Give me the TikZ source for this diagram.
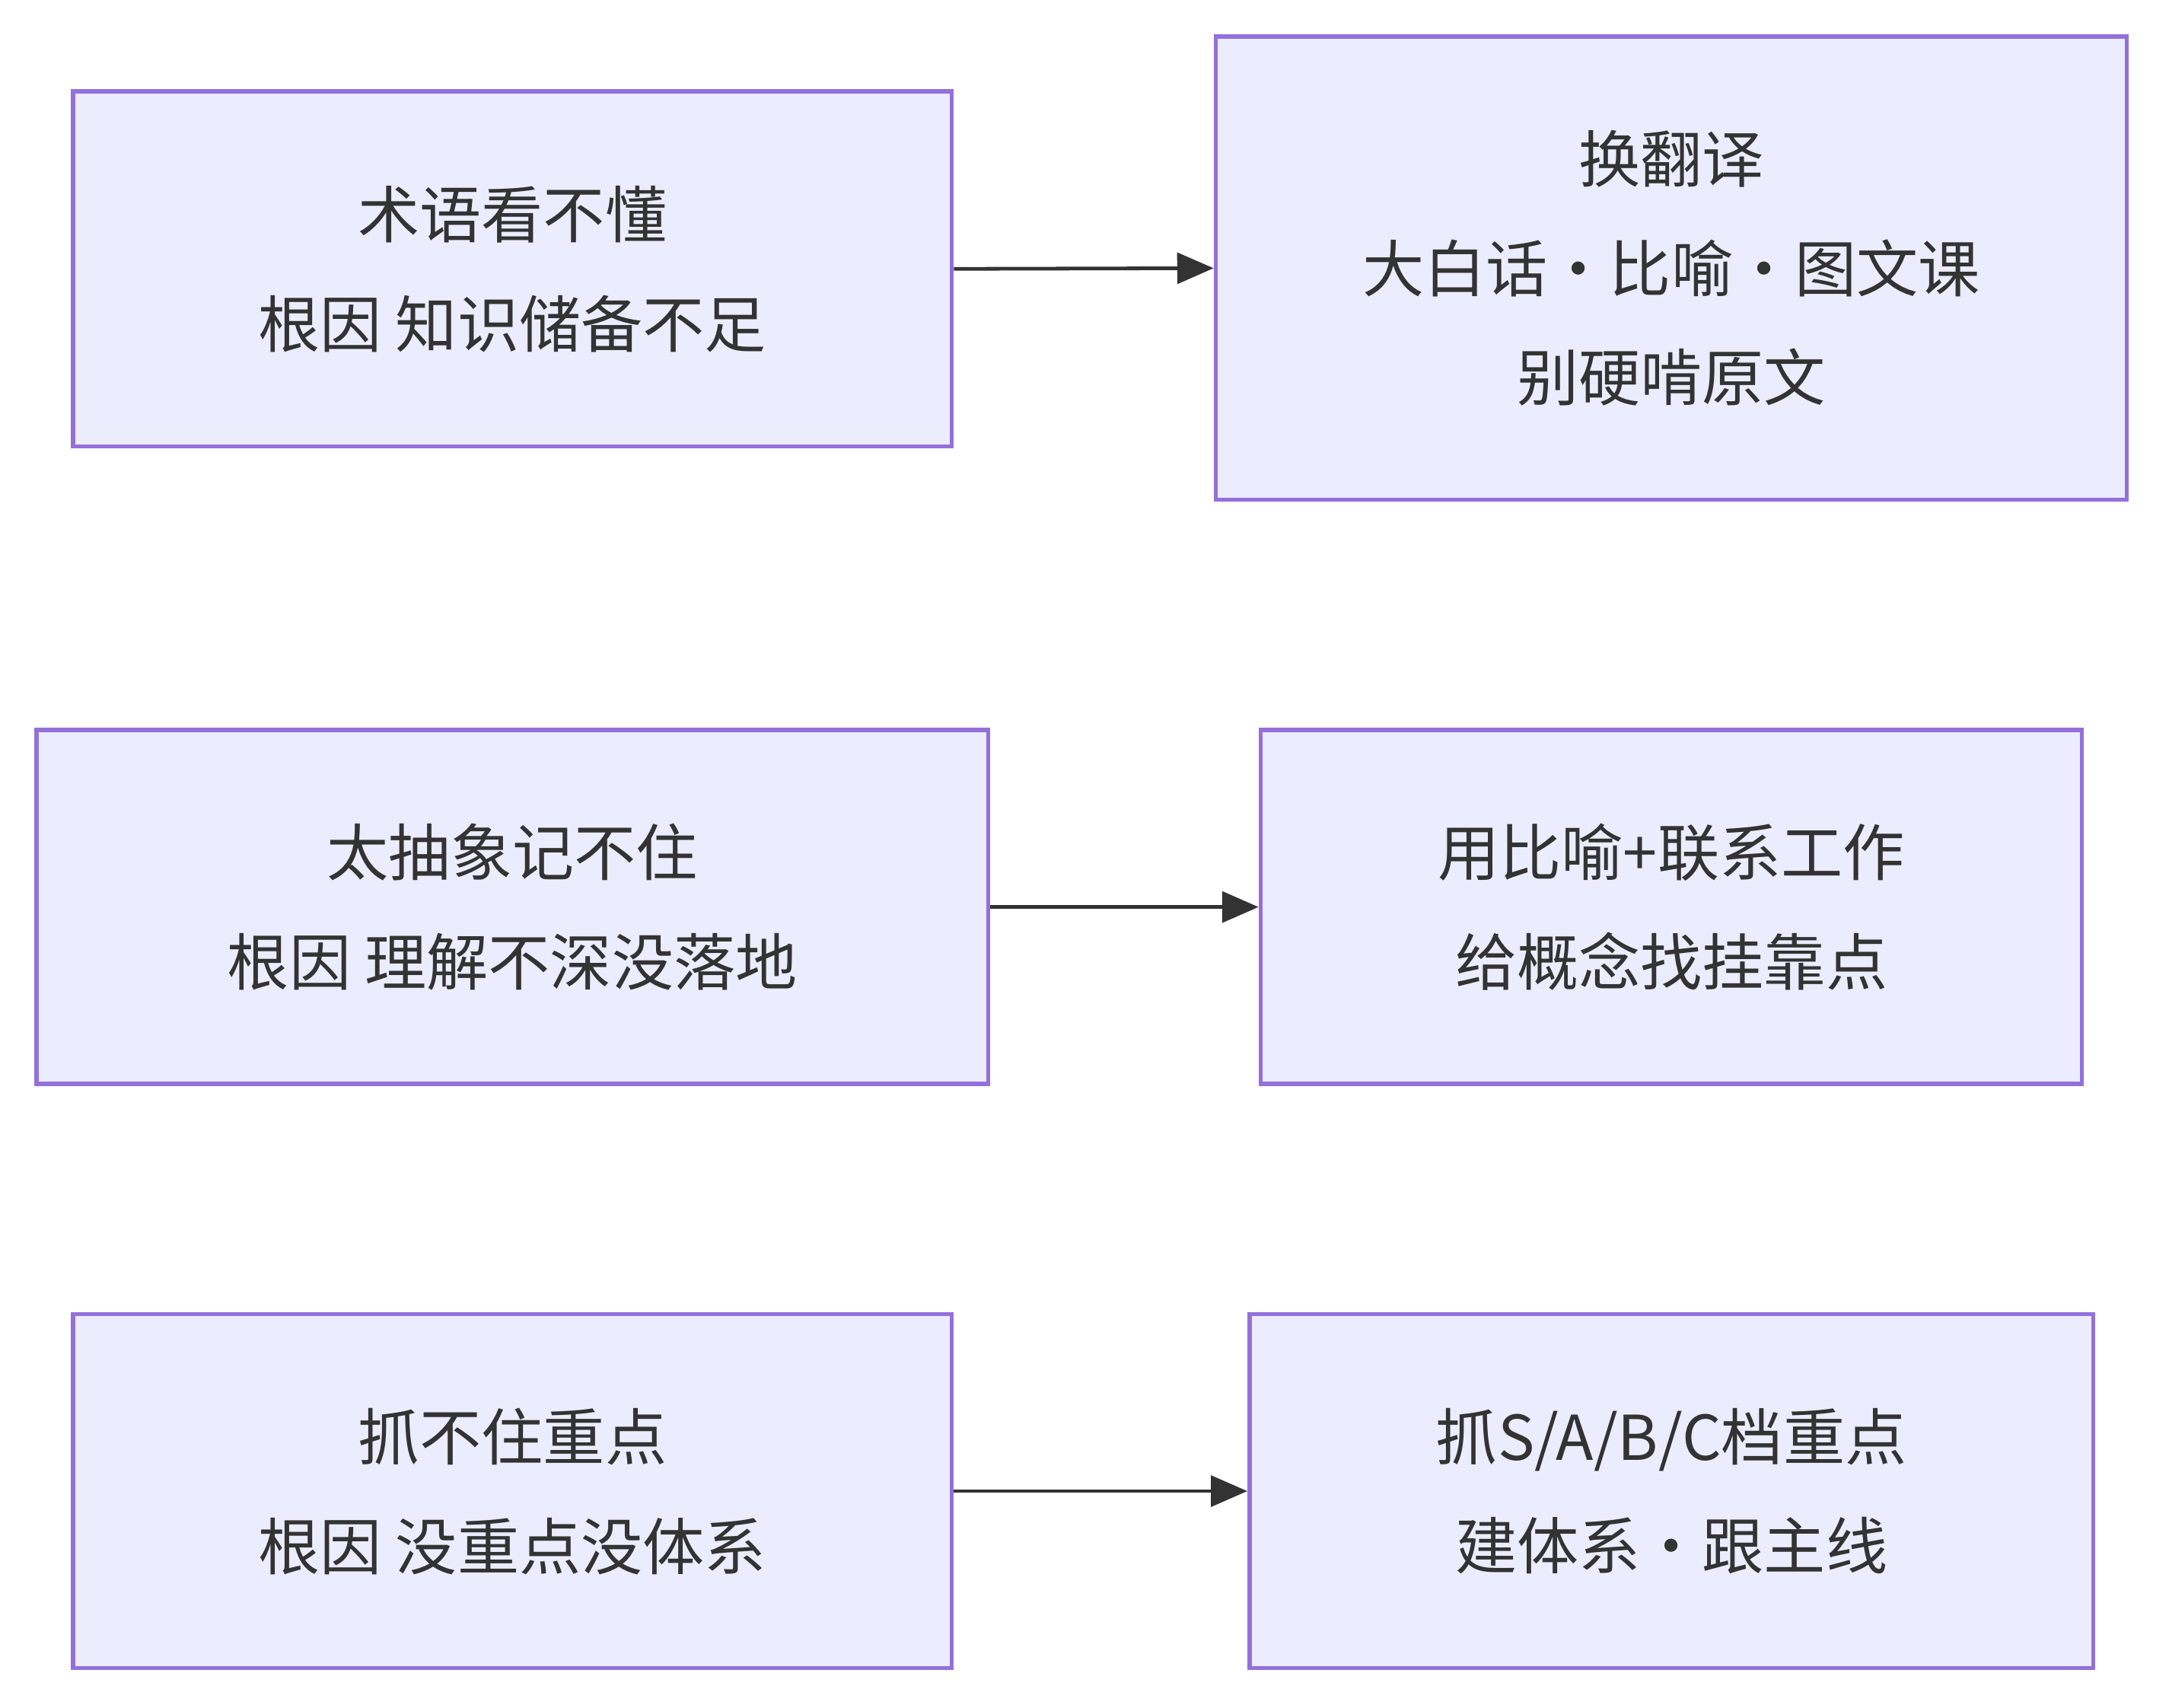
\documentclass[tikz,border=0pt]{standalone}
\usepackage{fontspec}
\setmainfont{Noto Sans CJK SC}
\usetikzlibrary{arrows.meta}
\definecolor{bfill}{HTML}{ECECFF}
\definecolor{bdraw}{HTML}{9370DB}
\definecolor{txt}{HTML}{333333}
\begin{document}
\begin{tikzpicture}[x=0.5pt,y=-0.5pt,
  box/.style={draw=bdraw,fill=bfill,line width=1.5pt,inner sep=0pt,text=txt,align=center,font=\fontsize{22}{39}\selectfont},
  arr/.style={draw=txt,line width=1.3pt,-{Triangle[length=13pt,width=11pt]}}]
\useasboundingbox (0,0) rectangle (1545,1216);
\node[box,minimum width=313pt,minimum height=126.5pt] (a1) at (365,191.5) {术语看不懂\\根因 知识储备不足};
\node[box,minimum width=324.5pt,minimum height=165pt] (b1) at (1190.5,191) {换翻译\\大白话·比喻·图文课\\别硬啃原文};
\node[box,minimum width=339pt,minimum height=126pt] (a2) at (365,646) {太抽象记不住\\根因 理解不深没落地};
\node[box,minimum width=292.5pt,minimum height=126pt] (b2) at (1190.5,646) {用比喻+联系工作\\给概念找挂靠点};
\node[box,minimum width=313pt,minimum height=126pt] (a3) at (365,1062) {抓不住重点\\根因 没重点没体系};
\node[box,minimum width=300.5pt,minimum height=126pt] (b3) at (1190.5,1062) {抓S/A/B/C档重点\\建体系·跟主线};
\draw[arr] (a1.east) -- (b1.west);
\draw[arr] (a2.east) -- (b2.west);
\draw[arr] (a3.east) -- (b3.west);
\end{tikzpicture}
\end{document}
